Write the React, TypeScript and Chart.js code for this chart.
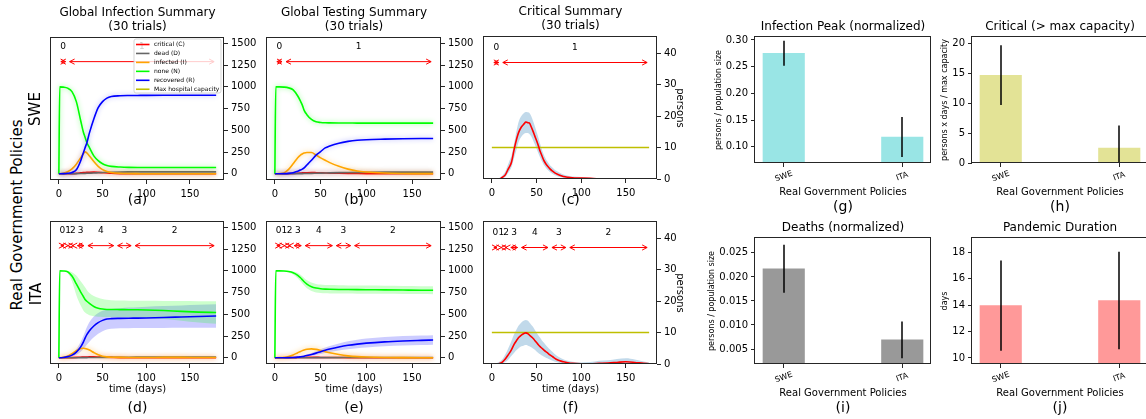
import React, { useEffect, useRef } from 'react';
import { Chart, registerables } from 'chart.js';

Chart.register(...registerables);

const FONT = '"DejaVu Sans", "Liberation Sans", Arial, sans-serif';
Chart.defaults.font.family = FONT;
Chart.defaults.color = '#000';

// ---------------- data ----------------
const DAYS_AD = [0, 1, 5, 10, 15, 20, 25, 28, 30, 32, 35, 40, 45, 50, 55, 60, 70, 80, 90, 100, 120, 140, 160, 180];
const DAYS_BE = [0, 1, 5, 10, 15, 20, 25, 28, 30, 32, 35, 40, 45, 50, 55, 60, 70, 80, 90, 100, 120, 140, 160, 173];
const DAYS_CF = [0, 5, 10, 12, 15, 18, 20, 22, 25, 28, 30, 33, 36, 38, 40, 42, 44, 46, 48, 50, 52, 54, 56, 58, 60, 62, 65, 68, 72, 76, 80, 85, 90, 100, 110, 120, 130, 140, 150, 160, 170, 176];

const X_TICKS = [0, 50, 100, 150];
const PERSON_TICKS = [0, 250, 500, 750, 1000, 1250, 1500];
const CRIT_TICKS = [0, 10, 20, 30, 40];

// SWE - global infection summary (a)
const SWE_INF_N = [0, 1000, 997, 985, 945, 830, 610, 480, 420, 360, 300, 205, 150, 115, 95, 85, 77, 73, 72, 72, 72, 72, 72, 72];
const SWE_INF_I = [0, 0, 5, 22, 55, 110, 185, 230, 252, 240, 205, 140, 85, 48, 27, 15, 5, 2, 1, 0, 0, 0, 0, 0];
const SWE_INF_R = [0, 0, 1, 5, 15, 45, 150, 240, 300, 355, 470, 630, 760, 830, 870, 888, 897, 900, 901, 902, 903, 903, 903, 903];
const SWE_INF_C = [0, 0, 0, 0.2, 1.3, 4.2, 9.5, 13, 14.8, 16, 17.3, 18.1, 16, 12, 8, 4.9, 1.9, 0.8, 0.4, 0.3, 0.1, 0, 0, 0];
const SWE_INF_D = [0, 0, 0, 0, 0.2, 0.8, 2, 3, 4, 5, 6.5, 9, 12, 14.5, 16.5, 18, 20, 21, 21.5, 21.7, 21.7, 21.7, 21.7, 21.7];

// ITA - global infection summary (d)
const ITA_INF_N = [0, 1000, 998, 990, 940, 850, 755, 705, 670, 650, 625, 590, 570, 560, 556, 555, 554, 553, 552, 550, 543, 533, 525, 520];
const ITA_INF_N_LO = [0, 1000, 995, 975, 880, 720, 600, 545, 520, 505, 490, 478, 472, 470, 469, 468, 467, 465, 462, 458, 445, 425, 405, 390];
const ITA_INF_N_HI = [0, 1000, 1000, 998, 985, 945, 880, 840, 810, 780, 745, 710, 690, 675, 667, 662, 658, 656, 655, 655, 653, 652, 651, 650];
const ITA_INF_R = [0, 0, 3, 13, 30, 65, 125, 180, 225, 265, 310, 365, 405, 430, 446, 450, 453, 455, 456, 458, 463, 469, 475, 481];
const ITA_INF_R_LO = [0, 0, 1, 6, 15, 35, 70, 100, 125, 150, 185, 235, 275, 305, 325, 333, 338, 340, 341, 342, 343, 344, 345, 346];
const ITA_INF_R_HI = [0, 0, 5, 22, 50, 100, 185, 250, 300, 350, 410, 475, 515, 540, 555, 562, 570, 577, 582, 586, 594, 602, 609, 615];
const ITA_INF_I = [0, 0, 4, 18, 48, 82, 106, 110, 106, 100, 88, 60, 35, 18, 10, 6, 4, 3, 3, 3, 4, 4, 3, 2];
const ITA_INF_C = [0, 0, 0, 0.2, 1.8, 3.9, 6.5, 7.6, 8.6, 9.1, 9.7, 9.8, 8.5, 6.4, 5, 3.9, 1.8, 0.7, 0.2, 0.1, 0.2, 0.5, 0.4, 0];
const ITA_INF_D = [0, 0, 0, 0, 0.1, 0.4, 0.8, 1.1, 1.4, 1.7, 2.1, 2.8, 3.5, 4.2, 4.8, 5.3, 6, 6.4, 6.6, 6.7, 6.8, 6.8, 6.9, 6.9];

// SWE - global testing summary (b)
const SWE_TST_N = [0, 1000, 1000, 997, 988, 965, 895, 835, 790, 730, 680, 625, 598, 590, 586, 585, 584, 584, 583, 583, 583, 583, 583, 583];
const SWE_TST_I = [0, 0, 2, 10, 50, 115, 185, 215, 228, 238, 245, 245, 215, 183, 155, 128, 85, 53, 31, 20, 8, 3, 1, 1];
const SWE_TST_R = [0, 0, 0, 1, 4, 12, 30, 42, 53, 68, 100, 155, 214, 255, 297, 320, 352, 372, 385, 392, 398, 402, 405, 406];
const SWE_TST_C = [0, 0, 0, 0.2, 1, 3, 6, 8, 9.5, 10.5, 12, 13, 12, 10.5, 9, 7.5, 5, 3, 2, 1.2, 0.5, 0.2, 0.1, 0];
const SWE_TST_D = [0, 0, 0, 0, 0, 0.3, 0.8, 1.2, 1.5, 2, 3, 4, 5.5, 7, 8.5, 10, 12.5, 14.5, 16, 17, 18.2, 18.8, 19, 19];

// ITA - global testing summary (e)
const ITA_TST_N = [0, 1000, 1000, 998, 992, 978, 948, 920, 898, 875, 848, 818, 802, 794, 790, 788, 786, 785, 784, 783, 781, 779, 777, 776];
const ITA_TST_N_LO = [0, 1000, 999, 995, 982, 958, 915, 880, 855, 830, 800, 768, 752, 745, 742, 740, 739, 738, 737, 736, 735, 734, 733, 732];
const ITA_TST_N_HI = [0, 1000, 1000, 1000, 998, 992, 975, 955, 938, 918, 893, 865, 850, 842, 838, 836, 834, 832, 831, 830, 828, 826, 824, 822];
const ITA_TST_I = [0, 0, 1, 4, 14, 32, 58, 72, 82, 90, 98, 102, 96, 84, 70, 58, 37, 22, 13, 8, 3, 1, 0, 0];
const ITA_TST_R = [0, 0, 0, 0, 1, 3, 7, 11, 14, 18, 25, 38, 53, 70, 86, 100, 124, 143, 157, 168, 183, 193, 200, 204];
const ITA_TST_R_LO = [0, 0, 0, 0, 0, 1, 3, 5, 7, 9, 13, 22, 32, 44, 56, 66, 84, 98, 109, 118, 131, 140, 146, 149];
const ITA_TST_R_HI = [0, 0, 0, 1, 3, 6, 12, 18, 23, 28, 38, 56, 75, 97, 117, 135, 165, 189, 206, 220, 238, 249, 256, 260];
const ITA_TST_C = [0, 0, 0, 0.1, 0.4, 1, 2, 2.6, 3, 3.3, 3.7, 4, 3.9, 3.5, 3.1, 2.7, 2, 1.4, 0.9, 0.6, 0.3, 0.1, 0, 0];
const ITA_TST_D = [0, 0, 0, 0, 0, 0, 0.1, 0.15, 0.2, 0.3, 0.4, 0.6, 0.8, 1, 1.25, 1.5, 1.9, 2.2, 2.4, 2.6, 2.8, 2.9, 3, 3];

// critical summaries (c, f)
const SWE_CRIT = [0, 0, 0.2, 0.6, 1.3, 3.0, 4.0, 5.4, 9.5, 13.0, 14.8, 16.5, 17.5, 18.1, 17.9, 17.8, 16.6, 15.2, 13.7, 12.2, 10.6, 8.8, 7.4, 6.0, 5.0, 4.2, 3.2, 2.5, 1.7, 1.2, 0.8, 0.55, 0.4, 0.3, 0.2, 0.1, 0.1, 0.05, 0, 0, 0, 0];
const SWE_CRIT_LO = [0, 0, 0, 0.2, 0.6, 1.8, 2.7, 3.8, 6.8, 9.8, 11.8, 13.4, 14.4, 14.6, 14.6, 14.3, 13.6, 12.4, 11.0, 9.6, 8.2, 6.8, 5.6, 4.5, 3.7, 3.0, 2.2, 1.6, 1.0, 0.6, 0.4, 0.2, 0.1, 0.1, 0, 0, 0, 0, 0, 0, 0, 0];
const SWE_CRIT_HI = [0, 0.1, 0.6, 1.2, 2.4, 4.5, 6.0, 7.5, 11.5, 15.8, 18.2, 20.0, 21.0, 21.3, 21.2, 21.0, 20.0, 18.5, 16.8, 15.0, 13.2, 11.2, 9.4, 7.8, 6.6, 5.6, 4.4, 3.6, 2.6, 2.0, 1.4, 1.0, 0.8, 0.6, 0.4, 0.3, 0.2, 0.15, 0.1, 0.1, 0.05, 0];
const ITA_CRIT = [0, 0, 0.3, 0.7, 1.6, 2.8, 3.6, 4.6, 6.3, 7.6, 8.4, 9.2, 9.7, 9.9, 9.7, 9.2, 8.7, 8.2, 7.5, 6.8, 6.1, 5.5, 5.0, 4.5, 4.0, 3.6, 2.9, 2.3, 1.5, 1.0, 0.7, 0.4, 0.2, 0.1, 0.1, 0.2, 0.3, 0.5, 0.7, 0.5, 0.2, 0.1];
const ITA_CRIT_LO = [0, 0, 0, 0.2, 0.6, 1.3, 1.9, 2.6, 3.6, 4.5, 5.0, 5.6, 5.9, 6.0, 5.9, 5.6, 5.3, 4.9, 4.5, 4.0, 3.5, 3.1, 2.7, 2.4, 2.1, 1.8, 1.4, 1.0, 0.6, 0.3, 0.2, 0.1, 0, 0, 0, 0, 0, 0, 0, 0, 0, 0];
const ITA_CRIT_HI = [0, 0.2, 1.0, 1.6, 3.0, 4.8, 6.0, 7.4, 9.5, 11.2, 12.2, 13.2, 13.8, 14.0, 13.8, 13.2, 12.5, 11.8, 10.9, 10.0, 9.1, 8.3, 7.5, 6.8, 6.1, 5.5, 4.6, 3.8, 2.8, 2.1, 1.5, 1.0, 0.7, 0.5, 0.6, 1.0, 1.2, 1.6, 1.8, 1.4, 0.8, 0.5];
const MAX_HOSPITAL_CAPACITY = 10;

// policy phases
const SWE_PHASE_STARTS = [0, 10];
const SWE_PHASE_IDS = [0, 1];
const ITA_PHASE_STARTS = [0, 8, 13, 19, 31, 65, 85];
const ITA_PHASE_IDS = [0, 1, 2, 3, 4, 3, 2];

// legend
const LEGEND_LABELS = ['critical (C)', 'dead (D)', 'infected (I)', 'none (N)', 'recovered (R)', 'Max hospital capacity'];

// bar charts
const BAR_CATS = ['SWE', 'ITA'];
const BAR_X = [0, 1];
const PEAK = [0.275, 0.118];
const PEAK_LO = [0.2515, 0.0805];
const PEAK_HI = [0.2985, 0.1555];
const CRIT_OVER = [14.7, 2.5];
const CRIT_OVER_LO = [9.7, -1.3];
const CRIT_OVER_HI = [19.7, 6.3];
const DEATHS = [0.0217, 0.0069];
const DEATHS_LO = [0.0167, 0.0031];
const DEATHS_HI = [0.0267, 0.0107];
const DURATION = [13.97, 14.35];
const DURATION_LO = [10.54, 10.65];
const DURATION_HI = [17.4, 18.05];
const PEAK_TICKS = [0.1, 0.15, 0.2, 0.25, 0.3];
const CRIT_OVER_TICKS = [0, 5, 10, 15, 20];
const DEATHS_TICKS = [0.005, 0.01, 0.015, 0.02, 0.025];
const DURATION_TICKS = [10, 12, 14, 16, 18];

// ---------------- styles ----------------
const RED = '#ff0000';
const GREY = '#666666';
const ORANGE = '#ffa500';
const GREEN = '#00ff00';
const BLUE = '#0000ff';
const OLIVE = '#bfbf00';
const LEGEND_COLORS = [RED, GREY, ORANGE, GREEN, BLUE, OLIVE];
const BAR_WIDTH = 0.35;
const BAR_XMIN = -0.2425;
const BAR_XMAX = 1.2425;

type Box = { l: number; t: number; r: number; b: number };

function txt(ctx: CanvasRenderingContext2D, s: string, x: number, y: number, size: number, align: CanvasTextAlign = 'center', rot = 0) {
  ctx.save();
  ctx.font = `${size}px ${FONT}`;
  ctx.fillStyle = '#000';
  ctx.textAlign = align;
  ctx.textBaseline = 'middle';
  ctx.translate(x, y);
  if (rot) ctx.rotate(rot);
  ctx.fillText(s, 0, 0);
  ctx.restore();
}

function drawFrame(ctx: CanvasRenderingContext2D, ca: any) {
  ctx.save();
  ctx.strokeStyle = '#262626';
  ctx.lineWidth = 1;
  const l = Math.round(ca.left) - 0.5, t = Math.round(ca.top) - 0.5;
  const r = Math.round(ca.right) - 0.5, b = Math.round(ca.bottom) - 0.5;
  ctx.strokeRect(l, t, r - l, b - t);
  ctx.restore();
}

function drawArrow(ctx: CanvasRenderingContext2D, x1: number, x2: number, y: number) {
  const s = 2, hl = 5, hw = 2.6;
  const a = x1 + s, b = x2 - s;
  ctx.beginPath();
  ctx.moveTo(a, y); ctx.lineTo(b, y);
  ctx.moveTo(a + hl, y - hw); ctx.lineTo(a, y); ctx.lineTo(a + hl, y + hw);
  ctx.moveTo(b - hl, y - hw); ctx.lineTo(b, y); ctx.lineTo(b - hl, y + hw);
  ctx.stroke();
}

function roundRectPath(ctx: CanvasRenderingContext2D, x: number, y: number, w: number, h: number, r: number) {
  ctx.beginPath();
  ctx.moveTo(x + r, y);
  ctx.lineTo(x + w - r, y); ctx.quadraticCurveTo(x + w, y, x + w, y + r);
  ctx.lineTo(x + w, y + h - r); ctx.quadraticCurveTo(x + w, y + h, x + w - r, y + h);
  ctx.lineTo(x + r, y + h); ctx.quadraticCurveTo(x, y + h, x, y + h - r);
  ctx.lineTo(x, y + r); ctx.quadraticCurveTo(x, y, x + r, y);
  ctx.closePath();
}

const fuzzPlugin = {
  id: 'fuzz',
  beforeDatasetDraw(chart: any, args: any) {
    const ds = chart.data.datasets[args.index];
    if (ds.fuzz) { chart.ctx.save(); chart.ctx.shadowColor = ds.fuzz; chart.ctx.shadowBlur = 5; }
  },
  afterDatasetDraw(chart: any, args: any) {
    const ds = chart.data.datasets[args.index];
    if (ds.fuzz) chart.ctx.restore();
  },
};

type Series = { values: number[]; color: string; order: number; fuzz?: string };
type Band = { lo: number[]; hi: number[]; color: string };
type LineSpec = {
  kind: 'line'; box: Box; days: number[]; xMin: number; xMax: number; yMin: number; yMax: number; yTicks: number[];
  series: Series[]; bands: Band[]; hline?: { value: number; color: string };
  titles: string[]; letter: string; letterDy: number; xlabel?: string; ylabelRight?: string; legend?: boolean;
  phaseStarts: number[]; phaseIds: number[]; arrowY: number; labelY: number;
};
type BarSpec = {
  kind: 'bar'; box: Box; values: number[]; lo: number[]; hi: number[]; color: string; yMin: number; yMax: number;
  yTicks: number[]; decimals: number; title: string; ylabel: string; ylabelDx: number; letter: string;
};

const PANELS: (LineSpec | BarSpec)[] = [
  {
    kind: 'line', box: { l: 51, t: 38, r: 224, b: 180 }, days: DAYS_AD, xMin: -9, xMax: 189, yMin: -72, yMax: 1562, yTicks: PERSON_TICKS,
    series: [
      { values: SWE_INF_C, color: RED, order: 5, fuzz: 'rgba(255,0,0,0.4)' },
      { values: SWE_INF_D, color: GREY, order: 4, fuzz: 'rgba(100,100,100,0.4)' },
      { values: SWE_INF_I, color: ORANGE, order: 3, fuzz: 'rgba(255,165,0,0.5)' },
      { values: SWE_INF_N, color: GREEN, order: 2, fuzz: 'rgba(0,255,0,0.45)' },
      { values: SWE_INF_R, color: BLUE, order: 1, fuzz: 'rgba(0,0,255,0.35)' },
    ], bands: [], titles: ['Global Infection Summary', '(30 trials)'], letter: '(a)', letterDy: 20, legend: true,
    phaseStarts: SWE_PHASE_STARTS, phaseIds: SWE_PHASE_IDS, arrowY: 1290, labelY: 1460,
  },
  {
    kind: 'line', box: { l: 267, t: 38, r: 441, b: 180 }, days: DAYS_BE, xMin: -8.6, xMax: 181.6, yMin: -72, yMax: 1562, yTicks: PERSON_TICKS,
    series: [
      { values: SWE_TST_C, color: RED, order: 5, fuzz: 'rgba(255,0,0,0.4)' },
      { values: SWE_TST_D, color: GREY, order: 4, fuzz: 'rgba(100,100,100,0.4)' },
      { values: SWE_TST_I, color: ORANGE, order: 3, fuzz: 'rgba(255,165,0,0.5)' },
      { values: SWE_TST_N, color: GREEN, order: 2, fuzz: 'rgba(0,255,0,0.45)' },
      { values: SWE_TST_R, color: BLUE, order: 1, fuzz: 'rgba(0,0,255,0.35)' },
    ], bands: [], titles: ['Global Testing Summary', '(30 trials)'], letter: '(b)', letterDy: 20,
    phaseStarts: SWE_PHASE_STARTS, phaseIds: SWE_PHASE_IDS, arrowY: 1290, labelY: 1460,
  },
  {
    kind: 'line', box: { l: 484, t: 37, r: 657, b: 179 }, days: DAYS_CF, xMin: -8.8, xMax: 184.8, yMin: 0, yMax: 45.1, yTicks: CRIT_TICKS,
    series: [{ values: SWE_CRIT, color: RED, order: 1 }],
    bands: [{ lo: SWE_CRIT_LO, hi: SWE_CRIT_HI, color: 'rgba(31,119,180,0.28)' }],
    hline: { value: MAX_HOSPITAL_CAPACITY, color: OLIVE },
    titles: ['Critical Summary', '(30 trials)'], letter: '(c)', letterDy: 21, ylabelRight: 'persons',
    phaseStarts: SWE_PHASE_STARTS, phaseIds: SWE_PHASE_IDS, arrowY: 37, labelY: 41.8,
  },
  {
    kind: 'line', box: { l: 51, t: 222, r: 224, b: 364 }, days: DAYS_AD, xMin: -9, xMax: 189, yMin: -72, yMax: 1562, yTicks: PERSON_TICKS,
    series: [
      { values: ITA_INF_C, color: RED, order: 5, fuzz: 'rgba(255,0,0,0.4)' },
      { values: ITA_INF_D, color: GREY, order: 4 },
      { values: ITA_INF_I, color: ORANGE, order: 3, fuzz: 'rgba(255,165,0,0.6)' },
      { values: ITA_INF_N, color: GREEN, order: 2 },
      { values: ITA_INF_R, color: BLUE, order: 1 },
    ],
    bands: [
      { lo: ITA_INF_N_LO, hi: ITA_INF_N_HI, color: 'rgba(0,255,0,0.2)' },
      { lo: ITA_INF_R_LO, hi: ITA_INF_R_HI, color: 'rgba(0,0,255,0.2)' },
    ],
    titles: [], letter: '(d)', letterDy: 44, xlabel: 'time (days)',
    phaseStarts: ITA_PHASE_STARTS, phaseIds: ITA_PHASE_IDS, arrowY: 1290, labelY: 1460,
  },
  {
    kind: 'line', box: { l: 267, t: 222, r: 441, b: 364 }, days: DAYS_BE, xMin: -8.6, xMax: 181.6, yMin: -72, yMax: 1562, yTicks: PERSON_TICKS,
    series: [
      { values: ITA_TST_C, color: RED, order: 5, fuzz: 'rgba(255,0,0,0.4)' },
      { values: ITA_TST_D, color: GREY, order: 4 },
      { values: ITA_TST_I, color: ORANGE, order: 3, fuzz: 'rgba(255,165,0,0.6)' },
      { values: ITA_TST_N, color: GREEN, order: 2 },
      { values: ITA_TST_R, color: BLUE, order: 1 },
    ],
    bands: [
      { lo: ITA_TST_N_LO, hi: ITA_TST_N_HI, color: 'rgba(0,255,0,0.2)' },
      { lo: ITA_TST_R_LO, hi: ITA_TST_R_HI, color: 'rgba(0,0,255,0.2)' },
    ],
    titles: [], letter: '(e)', letterDy: 44, xlabel: 'time (days)',
    phaseStarts: ITA_PHASE_STARTS, phaseIds: ITA_PHASE_IDS, arrowY: 1290, labelY: 1460,
  },
  {
    kind: 'line', box: { l: 484, t: 222, r: 657, b: 364 }, days: DAYS_CF, xMin: -8.8, xMax: 184.8, yMin: 0, yMax: 45.1, yTicks: CRIT_TICKS,
    series: [{ values: ITA_CRIT, color: RED, order: 1 }],
    bands: [{ lo: ITA_CRIT_LO, hi: ITA_CRIT_HI, color: 'rgba(31,119,180,0.28)' }],
    hline: { value: MAX_HOSPITAL_CAPACITY, color: OLIVE },
    titles: [], letter: '(f)', letterDy: 44, xlabel: 'time (days)', ylabelRight: 'persons',
    phaseStarts: ITA_PHASE_STARTS, phaseIds: ITA_PHASE_IDS, arrowY: 37, labelY: 41.8,
  },
  {
    kind: 'bar', box: { l: 755, t: 37, r: 931, b: 163 }, values: PEAK, lo: PEAK_LO, hi: PEAK_HI, color: '#99e5e5',
    yMin: 0.0694, yMax: 0.3056, yTicks: PEAK_TICKS, decimals: 2, title: 'Infection Peak (normalized)', ylabel: 'persons / population size', ylabelDx: 36, letter: '(g)',
  },
  {
    kind: 'bar', box: { l: 972, t: 37, r: 1148, b: 163 }, values: CRIT_OVER, lo: CRIT_OVER_LO, hi: CRIT_OVER_HI, color: '#e3e396',
    yMin: 0, yMax: 21.1, yTicks: CRIT_OVER_TICKS, decimals: 0, title: 'Critical (> max capacity)', ylabel: 'persons x days / max capacity', ylabelDx: 27, letter: '(h)',
  },
  {
    kind: 'bar', box: { l: 755, t: 238, r: 931, b: 364 }, values: DEATHS, lo: DEATHS_LO, hi: DEATHS_HI, color: '#999999',
    yMin: 0.00188, yMax: 0.0281, yTicks: DEATHS_TICKS, decimals: 3, title: 'Deaths (normalized)', ylabel: 'persons / population size', ylabelDx: 43, letter: '(i)',
  },
  {
    kind: 'bar', box: { l: 972, t: 238, r: 1148, b: 364 }, values: DURATION, lo: DURATION_LO, hi: DURATION_HI, color: '#ff9999',
    yMin: 9.54, yMax: 19.1, yTicks: DURATION_TICKS, decimals: 0, title: 'Pandemic Duration', ylabel: 'days', ylabelDx: 27, letter: '(j)',
  },
];

function padsFor(p: LineSpec | BarSpec) {
  const t = Math.min(40, p.box.t);
  return p.kind === 'line' ? { l: 14, t, r: 52, b: 52 } : { l: 72, t, r: 8, b: 52 };
}

function geom(p: LineSpec | BarSpec) {
  const pad = padsFor(p);
  return {
    x: p.box.l - pad.l, y: p.box.t - pad.t,
    w: p.box.r - p.box.l + pad.l + pad.r, h: p.box.b - p.box.t + pad.t + pad.b, pad,
  };
}

const tickGrid = { display: true, drawOnChartArea: false, drawTicks: true, tickLength: 4, color: '#262626', lineWidth: 1, offset: false };

function makeLine(canvas: HTMLCanvasElement, s: LineSpec) {
  const pad = padsFor(s);
  const pts = (v: number[]) => s.days.map((d, i) => ({ x: d, y: v[i] }));
  const datasets: any[] = [];
  for (const b of s.bands) {
    datasets.push({ data: pts(b.lo), borderWidth: 0, borderColor: 'rgba(0,0,0,0)', backgroundColor: 'rgba(0,0,0,0)', pointRadius: 0, fill: false, order: 20, cubicInterpolationMode: 'monotone' });
    datasets.push({ data: pts(b.hi), borderWidth: 0, borderColor: 'rgba(0,0,0,0)', backgroundColor: b.color, pointRadius: 0, fill: '-1', order: 20, cubicInterpolationMode: 'monotone' });
  }
  if (s.hline) {
    const end = s.days[s.days.length - 1];
    datasets.push({ data: [{ x: s.days[0], y: s.hline.value }, { x: end, y: s.hline.value }], borderColor: s.hline.color, borderWidth: 1.6, pointRadius: 0, fill: false, order: 10 });
  }
  for (const se of s.series) {
    datasets.push({ data: pts(se.values), borderColor: se.color, borderWidth: 1.6, pointRadius: 0, fill: false, order: se.order, cubicInterpolationMode: 'monotone', fuzz: se.fuzz || null });
  }
  const deco = {
    id: 'deco',
    afterDraw(chart: any) {
      const ctx: CanvasRenderingContext2D = chart.ctx;
      const ca = chart.chartArea;
      const xs = chart.scales.x, ys = chart.scales.y;
      const end = s.days[s.days.length - 1];
      const ay = ys.getPixelForValue(s.arrowY), ly = ys.getPixelForValue(s.labelY);
      ctx.save();
      ctx.beginPath(); ctx.rect(ca.left, ca.top, ca.right - ca.left, ca.bottom - ca.top); ctx.clip();
      ctx.strokeStyle = RED; ctx.lineWidth = 1;
      s.phaseStarts.forEach((st, i) => {
        const en = i + 1 < s.phaseStarts.length ? s.phaseStarts[i + 1] : end;
        drawArrow(ctx, xs.getPixelForValue(st), xs.getPixelForValue(en), ay);
        txt(ctx, String(s.phaseIds[i]), xs.getPixelForValue((st + en) / 2), ly, 9);
      });
      if (s.legend) {
        const x0 = ca.right - 90, y0 = ca.top + 1, w = 87, h = 54;
        roundRectPath(ctx, x0, y0, w, h, 2);
        ctx.fillStyle = 'rgba(255,255,255,0.8)'; ctx.fill();
        ctx.strokeStyle = 'rgba(204,204,204,0.8)'; ctx.lineWidth = 1; ctx.stroke();
        LEGEND_LABELS.forEach((lab, i) => {
          const yc = y0 + 5.5 + i * 8.95;
          ctx.strokeStyle = LEGEND_COLORS[i]; ctx.lineWidth = 1.6;
          ctx.beginPath(); ctx.moveTo(x0 + 2, yc); ctx.lineTo(x0 + 15.5, yc); ctx.stroke();
          txt(ctx, lab, x0 + 20, yc, 6, 'left');
        });
      }
      ctx.restore();
      drawFrame(ctx, ca);
      const cx = (ca.left + ca.right) / 2;
      if (s.titles.length) {
        txt(ctx, s.titles[0], cx, ca.top - 25, 12);
        txt(ctx, s.titles[1], cx, ca.top - 11.5, 12);
      }
      if (s.xlabel) txt(ctx, s.xlabel, cx, ca.bottom + 25, 10);
      txt(ctx, s.letter, cx, ca.bottom + s.letterDy, 14);
      if (s.ylabelRight) txt(ctx, s.ylabelRight, ca.right + 23, (ca.top + ca.bottom) / 2, 10, 'center', Math.PI / 2);
    },
  };
  return new Chart(canvas, {
    type: 'line',
    data: { datasets },
    options: {
      animation: false, responsive: false, devicePixelRatio: 1,
      layout: { padding: { left: pad.l, top: pad.t, right: 0, bottom: 0 } },
      plugins: { legend: { display: false }, tooltip: { enabled: false }, title: { display: false } },
      scales: {
        x: {
          type: 'linear', min: s.xMin, max: s.xMax, grid: tickGrid, border: { display: false },
          ticks: { font: { size: 10, family: FONT }, color: '#000', padding: 4, maxRotation: 0, autoSkip: false, callback: (v: any) => String(v) },
          afterBuildTicks: (sc: any) => { sc.ticks = X_TICKS.map((v) => ({ value: v })); },
          afterFit: (sc: any) => { sc.height = pad.b; },
        },
        y: {
          type: 'linear', position: 'right', min: s.yMin, max: s.yMax, grid: tickGrid, border: { display: false },
          ticks: { font: { size: 10, family: FONT }, color: '#000', padding: 3, autoSkip: false, callback: (v: any) => String(v) },
          afterBuildTicks: (sc: any) => { sc.ticks = s.yTicks.map((v) => ({ value: v })); },
          afterFit: (sc: any) => { sc.width = pad.r; },
        },
      },
    } as any,
    plugins: [fuzzPlugin, deco],
  });
}

function makeBar(canvas: HTMLCanvasElement, s: BarSpec) {
  const pad = padsFor(s);
  const thickness = ((s.box.r - s.box.l) / (BAR_XMAX - BAR_XMIN)) * BAR_WIDTH;
  const deco = {
    id: 'bardeco',
    afterDraw(chart: any) {
      const ctx: CanvasRenderingContext2D = chart.ctx;
      const ca = chart.chartArea;
      const xs = chart.scales.x, ys = chart.scales.y;
      ctx.save();
      ctx.beginPath(); ctx.rect(ca.left, ca.top, ca.right - ca.left, ca.bottom - ca.top); ctx.clip();
      ctx.strokeStyle = '#000'; ctx.lineWidth = 1.5;
      BAR_X.forEach((bx, i) => {
        const px = Math.round(xs.getPixelForValue(bx));
        ctx.beginPath();
        ctx.moveTo(px, ys.getPixelForValue(s.lo[i]));
        ctx.lineTo(px, ys.getPixelForValue(s.hi[i]));
        ctx.stroke();
      });
      ctx.restore();
      drawFrame(ctx, ca);
      const cx = (ca.left + ca.right) / 2;
      txt(ctx, s.title, cx, ca.top - 10.5, 12);
      BAR_X.forEach((bx, i) => {
        txt(ctx, BAR_CATS[i], xs.getPixelForValue(bx), ca.bottom + 13.5, 8, 'center', -20 * Math.PI / 180);
      });
      txt(ctx, 'Real Government Policies', cx, ca.bottom + 29, 10);
      txt(ctx, s.letter, cx, ca.bottom + 44.5, 14);
      txt(ctx, s.ylabel, ca.left - s.ylabelDx, (ca.top + ca.bottom) / 2, 8, 'center', -Math.PI / 2);
    },
  };
  return new Chart(canvas, {
    type: 'bar',
    data: {
      datasets: [{
        data: BAR_X.map((x, i) => ({ x, y: s.values[i] })),
        backgroundColor: s.color, borderWidth: 0, barThickness: thickness, grouped: false,
      }],
    },
    options: {
      animation: false, responsive: false, devicePixelRatio: 1,
      layout: { padding: { left: 0, top: pad.t, right: pad.r, bottom: 0 } },
      plugins: { legend: { display: false }, tooltip: { enabled: false }, title: { display: false } },
      scales: {
        x: {
          type: 'linear', min: BAR_XMIN, max: BAR_XMAX, offset: false, grid: tickGrid, border: { display: false },
          ticks: { display: false },
          afterBuildTicks: (sc: any) => { sc.ticks = BAR_X.map((v) => ({ value: v })); },
          afterFit: (sc: any) => { sc.height = pad.b; },
        },
        y: {
          type: 'linear', position: 'left', min: s.yMin, max: s.yMax, grid: tickGrid, border: { display: false },
          ticks: { font: { size: 10, family: FONT }, color: '#000', padding: 3, autoSkip: false, callback: (v: any) => Number(v).toFixed(s.decimals) },
          afterBuildTicks: (sc: any) => { sc.ticks = s.yTicks.map((v) => ({ value: v })); },
          afterFit: (sc: any) => { sc.width = pad.l; },
        },
      },
    } as any,
    plugins: [deco],
  });
}

const rotLabel = (x: number, y: number): React.CSSProperties => ({
  position: 'absolute', left: x, top: y, transform: 'translate(-50%, -50%) rotate(-90deg)',
  whiteSpace: 'nowrap', fontSize: 15, fontFamily: FONT, lineHeight: 1, color: '#000',
});

export default function App() {
  const refs = useRef<(HTMLCanvasElement | null)[]>([]);
  useEffect(() => {
    const charts = PANELS.map((p, i) => {
      const c = refs.current[i]!;
      return p.kind === 'line' ? makeLine(c, p) : makeBar(c, p);
    });
    return () => charts.forEach((c) => c.destroy());
  }, []);
  return (
    <div style={{ position: 'fixed', left: 0, top: 0, width: 1146, height: 419, overflow: 'hidden', background: '#fff' }}>
      {PANELS.map((p, i) => {
        const g = geom(p);
        return (
          <canvas key={i} ref={(el) => { refs.current[i] = el; }} width={g.w} height={g.h}
            style={{ position: 'absolute', left: g.x, top: g.y, width: g.w, height: g.h }} />
        );
      })}
      <div style={rotLabel(17, 215)}>Real Government Policies</div>
      <div style={rotLabel(35, 109)}>SWE</div>
      <div style={rotLabel(36, 294)}>ITA</div>
    </div>
  );
}
